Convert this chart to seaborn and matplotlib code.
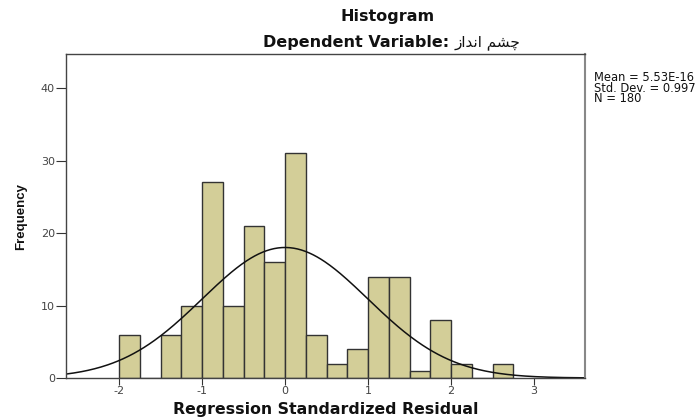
import numpy as np
import pandas as pd
import matplotlib
matplotlib.use("Agg")
import matplotlib.pyplot as plt
import seaborn as sns

# ---- data ----
bin_left = [-2.0, -1.5, -1.25, -1.0, -0.75, -0.5, -0.25, 0.0, 0.25, 0.5, 0.75,
            1.0, 1.25, 1.5, 1.75, 2.0, 2.5]
counts = [6, 6, 10, 27, 10, 21, 16, 31, 6, 2, 4, 14, 14, 1, 8, 2, 2]
bin_width = 0.25
mean_val = 5.53e-16
std_val = 0.997
n_val = 180
x_ticks = [-2, -1, 0, 1, 2, 3]
y_ticks = [0, 10, 20, 30, 40]

sns.set_theme(style="white")
plt.rcParams['font.family'] = ['DejaVu Sans']
plt.rcParams['axes.unicode_minus'] = False

fig = plt.figure(figsize=(6.99, 4.19), dpi=100)
W, H = 699, 419
ax_l, ax_r, ax_t, ax_b = 66, 585, 54, 378
ax = fig.add_axes([ax_l / W, 1 - ax_b / H, (ax_r - ax_l) / W, (ax_b - ax_t) / H])

df = pd.DataFrame({"x": np.array(bin_left) + bin_width / 2, "w": counts})
sns.histplot(data=df, x="x", weights="w", binwidth=bin_width, binrange=(-2.0, 2.75), ax=ax,
             color="#D3CE98", edgecolor="#333333", linewidth=1.0, alpha=1.0)

xmin, xmax = -2.639, 3.614
xs = np.linspace(xmin, xmax, 400)
ys = n_val * bin_width * np.exp(-0.5 * ((xs - mean_val) / std_val) ** 2) / (std_val * np.sqrt(2 * np.pi))
sns.lineplot(x=xs, y=ys, ax=ax, color="#111111", linewidth=1.1)

ax.set_xlim(xmin, xmax)
ax.set_ylim(0, 44.7)
ax.set_xticks(x_ticks)
ax.set_yticks(y_ticks)
ax.set_xticklabels([str(t) for t in x_ticks])
ax.set_yticklabels([str(t) for t in y_ticks])
ax.tick_params(axis='both', direction='out', width=0.8, color="#333333",
               labelsize=8, labelcolor="#444444", pad=1,
               bottom=True, left=True)
ax.tick_params(axis='x', length=5)
ax.tick_params(axis='y', length=7)
for s in ax.spines.values():
    s.set_visible(True)
    s.set_color("#444444")
    s.set_linewidth(1.0)
ax.spines['right'].set_color("#888888")
ax.spines['right'].set_linewidth(1.5)

ax.set_xlabel("Regression Standardized Residual", fontsize=11.3, fontweight='bold', labelpad=4,
              color="#111111")
ax.set_ylabel("Frequency", fontsize=9.5, fontweight='bold', labelpad=10,
              family=['Liberation Sans', 'DejaVu Sans'], color="#111111")

persian = "\uFEAF\uFE8D\uFEAA\uFEE7\uFE8D \uFEE2\uFEB8\uFB7C"
fig.text(388 / W, 1 - 17 / H, "Histogram", ha='center', va='center',
         fontsize=11.5, fontweight='bold', color="#111111")
fig.text(449 / W, 1 - 43 / H, "Dependent Variable:", ha='right', va='center',
         fontsize=11.5, fontweight='bold', color="#111111")
fig.text(455 / W, 1 - 43 / H, persian, ha='left', va='center',
         fontsize=11, color="#111111")

fig.text(594 / W, 1 - 71 / H,
         "Mean = 5.53E-16\nStd. Dev. = 0.997\nN = 180",
         ha='left', va='top', fontsize=8.3, linespacing=0.76, color="#111111")

fig.savefig("out.png", dpi=100)
